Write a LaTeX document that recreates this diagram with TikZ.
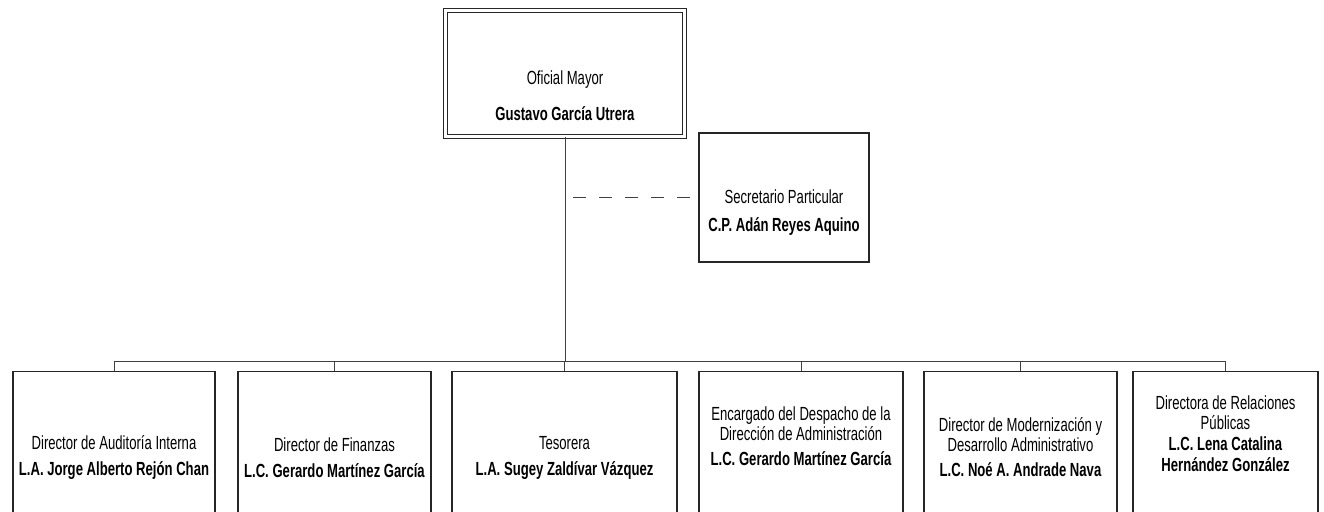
\documentclass[tikz,border=0pt]{standalone}
\usepackage{fontspec}
\setmainfont{Liberation Sans}[FakeStretch=0.69]

\begin{document}
\begin{tikzpicture}[
x=0.5pt, y=-0.5pt,
caja/.style = {draw=black!85, line width=0.6pt, rectangle, inner sep=0pt},
jefe/.style = {caja, double=white, double distance=1.3pt, line width=0.55pt, minimum width=119.5pt, minimum height=63pt},
unidad/.style = {caja, anchor=north, minimum height=86pt},
txt/.style = {align=center, inner sep=0pt, font=\fontsize{9.5}{10}\selectfont},
linea/.style = {draw=black!75, line width=0.5pt},
apoyo/.style = {linea, dash pattern=on 6.5pt off 6.5pt, dash phase=9pt}
]
  \useasboundingbox (0,0) rectangle (1324,512);

  \node[jefe] (of) at (565,73.5) {};
  \node[txt] (tof) at (565,96) {Oficial Mayor\\[8pt]\textbf{Gustavo García Utrera}};

  \node[caja, minimum width=85pt, minimum height=64.5pt] (sec) at (784,197.5) {};
  \node[txt] (tsec) at (784,213) {Secretario Particular\\[4pt]\textbf{C.P. Adán Reyes Aquino}};

  \node[unidad, minimum width=101pt] (aud) at (114,371) {};
  \node[unidad, minimum width=96.5pt] (fin) at (334.5,371) {};
  \node[unidad, minimum width=112.5pt] (tes) at (564.5,371) {};
  \node[unidad, minimum width=102pt] (adm) at (801,371) {};
  \node[unidad, minimum width=96.5pt] (mod) at (1020.5,371) {};
  \node[unidad, minimum width=92.5pt] (rel) at (1225.5,371) {};

  \node[txt] (taud) at (114,457.5) {Director de Auditoría Interna\\[3pt]\textbf{L.A. Jorge Alberto Rejón Chan}};
  \node[txt] (tfin) at (334.5,457.5) {Director de Finanzas\\[3pt]\textbf{L.C. Gerardo Martínez García}};
  \node[txt] (ttes) at (564.5,457.5) {Tesorera\\[3pt]\textbf{L.A. Sugey Zaldívar Vázquez}};
  \node[txt] (tadm) at (801,436.5) {Encargado del Despacho de la\\Dirección de Administración\\[2.5pt]\textbf{L.C. Gerardo Martínez García}};
  \node[txt] (tmod) at (1020.5,447) {Director de Modernización y\\Desarrollo Administrativo\\[2.5pt]\textbf{L.C. Noé A. Andrade Nava}};
  \node[txt] (trel) at (1225.5,434) {Directora de Relaciones\\Públicas\\[0.5pt]\textbf{L.C. Lena Catalina}\\[0.5pt]\textbf{Hernández González}};

  \coordinate (bus) at (565,362);
  \draw[linea] (of.south) -- (bus);
  \draw[linea] (aud.north |- bus) -- (rel.north |- bus);
  \foreach \u in {aud,fin,tes,adm,mod,rel}
    \draw[linea] (\u.north |- bus) -- (\u.north);
  \draw[apoyo] (of.south |- sec.west) -- (sec.west);
\end{tikzpicture}
\end{document}
